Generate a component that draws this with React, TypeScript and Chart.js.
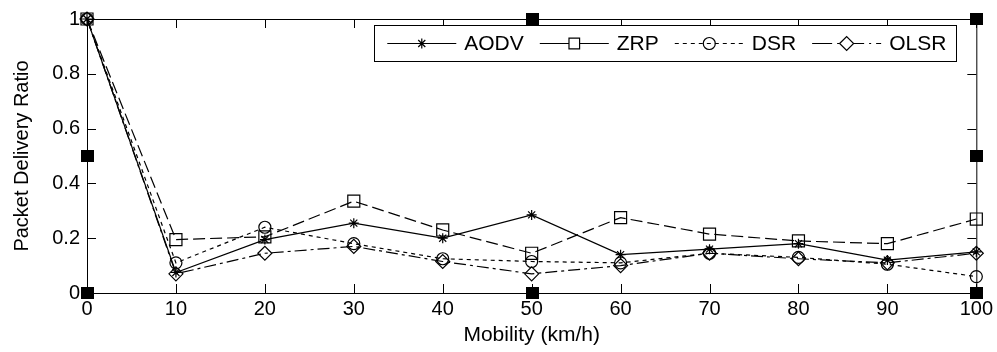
import React, { useEffect, useRef } from "react";
import { Chart, registerables } from "chart.js";
import { drawPoint } from "chart.js/helpers";

Chart.register(...registerables);

// ---- data ----
const xValues = [0, 10, 20, 30, 40, 50, 60, 70, 80, 90, 100];
const aodv = [1, 0.075, 0.195, 0.255, 0.2, 0.285, 0.14, 0.16, 0.18, 0.12, 0.15];
const zrp = [1, 0.195, 0.205, 0.335, 0.23, 0.145, 0.275, 0.215, 0.19, 0.18, 0.27];
const dsr = [1, 0.11, 0.24, 0.18, 0.125, 0.115, 0.11, 0.145, 0.13, 0.105, 0.06];
const olsr = [1, 0.07, 0.145, 0.17, 0.115, 0.07, 0.1, 0.145, 0.125, 0.11, 0.145];
const seriesNames = ["AODV", "ZRP", "DSR", "OLSR"];
const xTitle = "Mobility (km/h)";
const yTitle = "Packet Delivery Ratio";
const xMin = 0, xMax = 100, xStep = 10;
const yMin = 0, yMax = 1, yStep = 0.2;
// selection handles (data space)
const handleXs = [0, 50, 100, 0, 100, 50, 100];
const handleYs = [0, 0, 0, 0.5, 0.5, 1, 1];

const FONT = '"Liberation Sans", Arial, Helvetica, sans-serif';

const styles = [
  { pointStyle: "star", radius: 5, dash: [], legendDash: [] },
  { pointStyle: "rect", radius: 8.5, dash: [12, 5], legendDash: [] },
  { pointStyle: "circle", radius: 6, dash: [4, 4], legendDash: [4, 4] },
  { pointStyle: "rectRot", radius: 7, dash: [12, 4, 3, 4], legendDash: [20, 5, 2, 5] },
];
const seriesValues = [aodv, zrp, dsr, olsr];

const fmt = (v: any) => String(Number(Number(v).toFixed(2)));

const framePlugin = {
  id: "matlabFrame",
  beforeDatasetsDraw(chart: any) {
    const { ctx, chartArea, scales } = chart;
    const { left, right, top, bottom } = chartArea;
    ctx.save();
    ctx.strokeStyle = "#000";
    ctx.lineWidth = 1;
    ctx.setLineDash([]);
    ctx.strokeRect(left + 0.5, top + 0.5, right - left, bottom - top);
    const tl = 9;
    ctx.beginPath();
    for (const t of scales.x.ticks) {
      const px = Math.round(scales.x.getPixelForValue(t.value)) + 0.5;
      ctx.moveTo(px, bottom);
      ctx.lineTo(px, bottom - tl);
      ctx.moveTo(px, top);
      ctx.lineTo(px, top + tl);
    }
    for (const t of scales.y.ticks) {
      const py = Math.round(scales.y.getPixelForValue(t.value)) + 0.5;
      ctx.moveTo(left, py);
      ctx.lineTo(left + tl, py);
      ctx.moveTo(right, py);
      ctx.lineTo(right - tl, py);
    }
    ctx.stroke();
    ctx.restore();
  },
  afterDraw(chart: any) {
    const { ctx, chartArea, scales } = chart;
    ctx.save();
    // selection handles
    ctx.fillStyle = "#000";
    for (let i = 0; i < handleXs.length; i++) {
      const px = Math.round(scales.x.getPixelForValue(handleXs[i]));
      const py = Math.round(scales.y.getPixelForValue(handleYs[i]));
      ctx.fillRect(px - 6, py - 6, 13, 12);
    }
    // legend
    ctx.font = `21px ${FONT}`;
    const boxRight = chartArea.right - 20;
    const boxTop = chartArea.top + 6;
    const boxH = 36;
    const lineLen = 69;
    const padL = 13, gapText = 8, gapItem = 16, padR = 10;
    const widths = seriesNames.map((n) => ctx.measureText(n).width);
    let total = padL + padR;
    widths.forEach((w, i) => {
      total += lineLen + gapText + w + (i < widths.length - 1 ? gapItem : 0);
    });
    const boxLeft = boxRight - total;
    ctx.fillStyle = "#fff";
    ctx.fillRect(boxLeft, boxTop, total, boxH);
    ctx.strokeStyle = "#000";
    ctx.lineWidth = 1;
    ctx.strokeRect(Math.round(boxLeft) + 0.5, boxTop + 0.5, Math.round(total), boxH);
    const cy = boxTop + boxH / 2;
    let x = boxLeft + padL;
    seriesNames.forEach((name, i) => {
      const st = styles[i];
      ctx.strokeStyle = "#000";
      ctx.lineWidth = 1.2;
      ctx.setLineDash(st.legendDash);
      ctx.beginPath();
      ctx.moveTo(x, Math.round(cy) + 0.5);
      ctx.lineTo(x + lineLen, Math.round(cy) + 0.5);
      ctx.stroke();
      ctx.setLineDash([]);
      ctx.fillStyle = st.pointStyle === "circle" ? "rgba(0,0,0,0)" : "#fff";
      drawPoint(ctx, { pointStyle: st.pointStyle, radius: st.pointStyle === "rect" ? 7.5 : st.radius, rotation: 0, borderWidth: 1.2 } as any, x + lineLen / 2, Math.round(cy) + 0.5);
      ctx.fillStyle = "#000";
      ctx.textAlign = "left";
      ctx.textBaseline = "middle";
      ctx.fillText(name, x + lineLen + gapText, cy + 1);
      x += lineLen + gapText + widths[i] + gapItem;
    });
    ctx.restore();
  },
};

export default function App() {
  const ref = useRef<HTMLCanvasElement | null>(null);
  useEffect(() => {
    document.body.style.margin = "0";
    const canvas = ref.current;
    if (!canvas) return;
    const datasets = seriesNames.map((name, i) => ({
      label: name,
      data: xValues.map((xv, j) => ({ x: xv, y: seriesValues[i][j] })),
      borderColor: "#000",
      borderWidth: 1.2,
      borderDash: styles[i].dash,
      pointStyle: styles[i].pointStyle,
      pointRadius: styles[i].radius,
      pointBorderColor: "#000",
      pointBackgroundColor: "rgba(0,0,0,0)",
      pointBorderWidth: 1.2,
      tension: 0,
      fill: false,
      clip: false as any,
    }));
    const chart = new Chart(canvas, {
      type: "line",
      data: { datasets },
      options: {
        animation: false,
        responsive: false,
        devicePixelRatio: 1,
        layout: { padding: { left: 0, right: 20, top: 16, bottom: 0 }, autoPadding: false } as any,
        plugins: { legend: { display: false }, tooltip: { enabled: false } },
        scales: {
          x: {
            type: "linear",
            min: xMin,
            max: xMax,
            ticks: { stepSize: xStep, color: "#000", font: { family: FONT, size: 20 }, padding: 4, maxRotation: 0, callback: fmt },
            grid: { display: false, drawTicks: false },
            border: { display: false },
            title: { display: true, text: xTitle, color: "#000", font: { family: FONT, size: 21 }, padding: { top: 0, bottom: 4 } },
            afterFit: (s: any) => { s.height = 59; },
          },
          y: {
            type: "linear",
            min: yMin,
            max: yMax,
            ticks: { stepSize: yStep, color: "#000", font: { family: FONT, size: 20 }, padding: 7, callback: fmt },
            grid: { display: false, drawTicks: false },
            border: { display: false },
            title: { display: true, text: yTitle, color: "#000", font: { family: FONT, size: 20 }, padding: { top: 10, bottom: 0 } },
            afterFit: (s: any) => { s.width = 87; },
          },
        },
      },
      plugins: [framePlugin],
    });
    return () => chart.destroy();
  }, []);
  return (
    <div style={{ width: 997, height: 352, background: "#fff" }}>
      <canvas ref={ref} width={997} height={352} style={{ width: 997, height: 352, display: "block" }} />
    </div>
  );
}
